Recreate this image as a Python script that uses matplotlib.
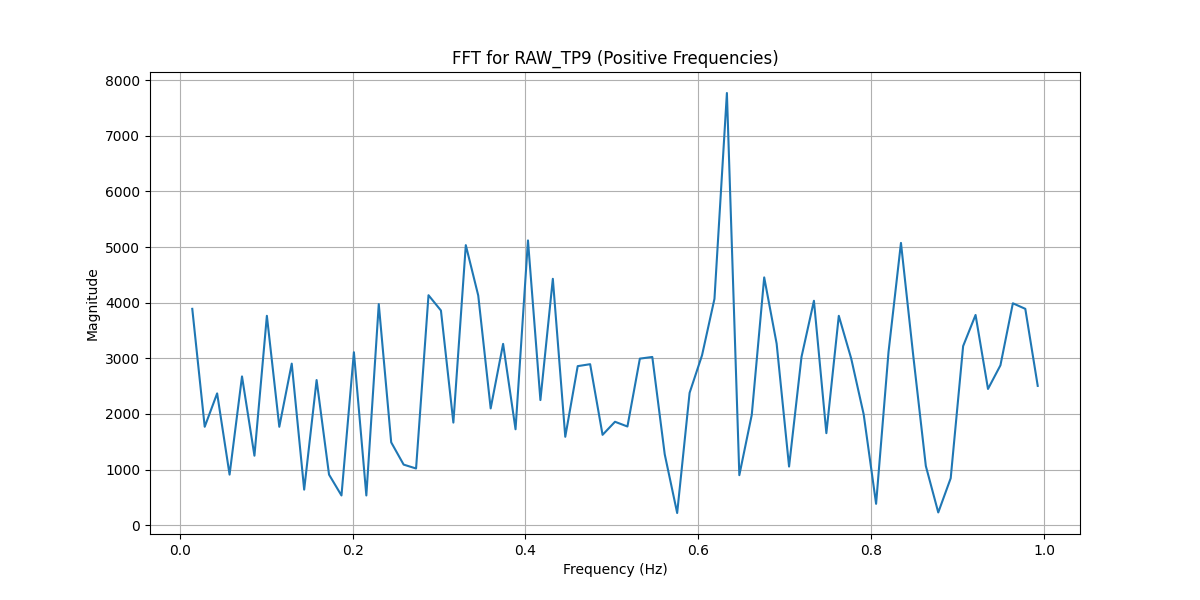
import numpy as np
import matplotlib
matplotlib.use("Agg")
import matplotlib.pyplot as plt

# Frequency axis: positive rfft bins (sample count / sample spacing)
sample_count = 139
sample_spacing = 0.5
frequencies = np.fft.rfftfreq(sample_count, d=sample_spacing)[1:]

magnitudes = [
    3890, 1770, 2370, 910, 2675, 1250, 3765, 1770, 2905, 640,
    2610, 910, 535, 3110, 535, 3975, 1490, 1090, 1020, 4135,
    3860, 1845, 5035, 4130, 2100, 3260, 1725, 5120, 2250, 4430,
    1590, 2860, 2895, 1625, 1860, 1775, 2995, 3025, 1275, 220,
    2380, 3055, 4070, 7770, 900, 1985, 4455, 3265, 1055, 3025,
    4035, 1655, 3765, 2995, 1995, 385, 3115, 5075, 3025, 1065,
    230, 845, 3220, 3780, 2450, 2875, 3990, 3890, 2505,
]

fig, ax = plt.subplots(figsize=(12, 6), dpi=100)
ax.plot(frequencies, magnitudes)
ax.set_title("FFT for RAW_TP9 (Positive Frequencies)")
ax.set_xlabel("Frequency (Hz)")
ax.set_ylabel("Magnitude")
ax.grid(True)
fig.savefig("out.png", dpi=100)
